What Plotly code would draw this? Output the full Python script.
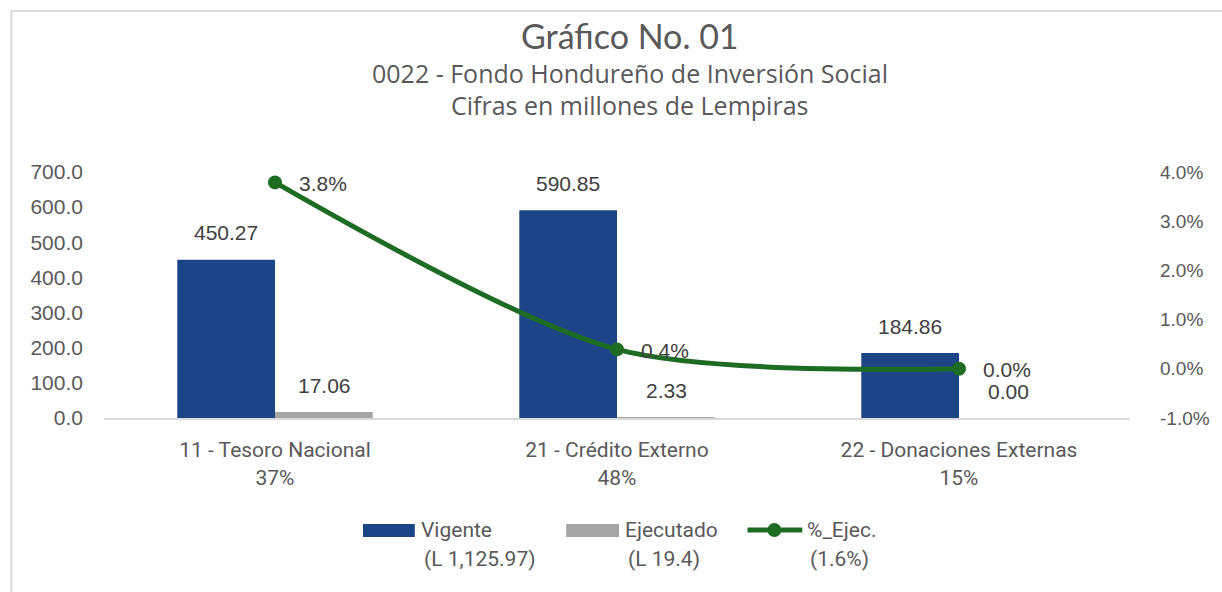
import plotly.graph_objects as go

# ---- data ----
categories = ["11 - Tesoro Nacional", "21 - Crédito Externo", "22 - Donaciones Externas"]
vigente = [450.27, 590.85, 184.86]
ejecutado = [17.06, 2.33, 0.00]
pct_ejec = [e / v for e, v in zip(ejecutado, vigente)]
share = [v / sum(vigente) for v in vigente]
tick_text = [f"{c}<br>{s:.0%}" for c, s in zip(categories, share)]
pct_ticks = [-0.01, 0.0, 0.01, 0.02, 0.03, 0.04]
pct_tick_text = [f"{v:.1%}" for v in pct_ticks]
legend_names = ["Vigente", "Ejecutado", "%_Ejec."]
legend_totals = ["(L 1,125.97)", "(L 19.4)", "(1.6%)"]
title_text = "Gráfico No. 01"
subtitle_lines = ["0022 - Fondo Hondureño de Inversión Social", "Cifras en millones de Lempiras"]

# ---- styling ----
BLUE = "#1B4586"
GRAY = "#A5A5A5"
GREEN = "#1E6B24"
TXT = "#595959"
LBL = "#404040"
W, H = 1222, 592
L, R, T, B = 104, 88, 172, 174
PW, PH = W - L - R, H - T - B


def px(x):
    return (x - L) / PW


def py(y):
    return (H - B - y) / PH


fig = go.Figure()
fig.add_trace(go.Bar(x=categories, y=vigente, name=legend_names[0], marker_color=BLUE,
                     marker_line_width=0))
fig.add_trace(go.Bar(x=categories, y=ejecutado, name=legend_names[1], marker_color=GRAY,
                     marker_line_width=0))
fig.add_trace(go.Scatter(x=categories, y=pct_ejec, name=legend_names[2], yaxis="y2",
                         mode="lines+markers",
                         line=dict(color=GREEN, width=5, shape="spline", smoothing=0.8),
                         marker=dict(color=GREEN, size=14)))

lbl_font = dict(family="Liberation Sans", size=21, color=LBL)
annotations = []
# bar value labels
for c, v, e in zip(categories, vigente, ejecutado):
    annotations.append(dict(x=c, y=v, xref="x", yref="y", text=f"{v:.2f}", showarrow=False,
                            xshift=-49, yshift=27, font=lbl_font))
    annotations.append(dict(x=c, y=e, xref="x", yref="y", text=f"{e:.2f}", showarrow=False,
                            xshift=49, yshift=27, font=lbl_font))
# line labels
for c, p in zip(categories, pct_ejec):
    annotations.append(dict(x=c, y=p, xref="x", yref="y2", text=f"{p:.1%}", showarrow=False,
                            xshift=48, yshift=-1, font=lbl_font))

# title
annotations.append(dict(x=px(632), y=py(35), xref="paper", yref="paper", text=title_text,
                        showarrow=False, yanchor="middle",
                        font=dict(family="Lato", size=34, color=TXT)))
for i, line in enumerate(subtitle_lines):
    annotations.append(dict(x=px(632), y=py(73 + 32 * i), xref="paper", yref="paper", text=line,
                            showarrow=False, yanchor="middle",
                            font=dict(family="Open Sans", size=25, color=TXT)))

# custom legend
shapes = []
leg_font = dict(family="Roboto", size=21, color=TXT)
leg_items = [(364, 416, 420), (568, 621, 625), (750, 805, 808)]
for i, (x0, x1, tx) in enumerate(leg_items):
    if i < 2:
        shapes.append(dict(type="rect", xref="paper", yref="paper", x0=px(x0), x1=px(x1),
                           y0=py(537), y1=py(524), fillcolor=[BLUE, GRAY][i], line_width=0))
    else:
        shapes.append(dict(type="line", xref="paper", yref="paper", x0=px(x0), x1=px(x1),
                           y0=py(530), y1=py(530), line=dict(color=GREEN, width=5)))
        shapes.append(dict(type="circle", xref="paper", yref="paper", x0=px(770), x1=px(784),
                           y0=py(537), y1=py(523), fillcolor=GREEN, line_width=0))
    annotations.append(dict(x=px(tx), y=py(530), xref="paper", yref="paper", text=legend_names[i],
                            showarrow=False, xanchor="left", yanchor="middle", font=leg_font))
    annotations.append(dict(x=px(tx + 3), y=py(559), xref="paper", yref="paper", text=legend_totals[i],
                            showarrow=False, xanchor="left", yanchor="middle", font=leg_font))

# outer border (partial, as cropped)
shapes.append(dict(type="line", xref="paper", yref="paper", x0=px(11), x1=px(11), y0=py(11), y1=py(600),
                   line=dict(color="#D9D9D9", width=2)))
shapes.append(dict(type="line", xref="paper", yref="paper", x0=px(11), x1=px(1230), y0=py(11), y1=py(11),
                   line=dict(color="#D9D9D9", width=2)))

fig.update_layout(
    width=W, height=H,
    margin=dict(l=L, r=R, t=T, b=B, pad=0),
    paper_bgcolor="white", plot_bgcolor="white",
    barmode="group", bargap=0.4286, bargroupgap=0,
    showlegend=False,
    annotations=annotations, shapes=shapes,
    xaxis=dict(tickmode="array", tickvals=categories, ticktext=tick_text,
               showline=True, linecolor="#D9D9D9", linewidth=2, ticks="",
               showgrid=False, ticklabelstandoff=12,
               tickfont=dict(family="Roboto", size=21, color=TXT)),
    yaxis=dict(range=[0, 700], dtick=100, tickformat=".1f", showgrid=False, zeroline=False,
               ticks="", ticklabelstandoff=20,
               tickfont=dict(family="Liberation Sans", size=21, color=TXT)),
    yaxis2=dict(range=[-0.01, 0.04], tickmode="array", tickvals=pct_ticks, ticktext=pct_tick_text,
                overlaying="y", side="right",
                showgrid=False, zeroline=False, ticks="", ticklabelstandoff=29,
                tickfont=dict(family="Liberation Sans", size=19, color=TXT)),
)

fig.write_html("out.html", config={"displayModeBar": False},
               post_script="document.body.style.margin='0px';")
